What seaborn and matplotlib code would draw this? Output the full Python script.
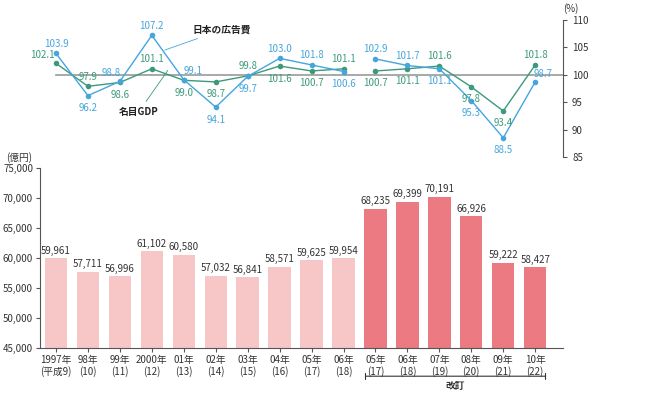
import matplotlib
matplotlib.use("Agg")
import matplotlib.pyplot as plt
import seaborn as sns
import numpy as np

plt.rcParams['font.family'] = 'Noto Sans CJK JP'
plt.rcParams['font.size'] = 7

# data
tick_labels = ['1997年\n(平成9)', '98年\n(10)', '99年\n(11)', '2000年\n(12)', '01年\n(13)',
               '02年\n(14)', '03年\n(15)', '04年\n(16)', '05年\n(17)', '06年\n(18)',
               '05年\n(17)', '06年\n(18)', '07年\n(19)', '08年\n(20)', '09年\n(21)', '10年\n(22)']
ad_spend = [59961, 57711, 56996, 61102, 60580, 57032, 56841, 58571, 59625, 59954,
            68235, 69399, 70191, 66926, 59222, 58427]
ad_ratio = [103.9, 96.2, 98.8, 107.2, 99.1, 94.1, 99.7, 103.0, 101.8, 100.6,
            102.9, 101.7, 101.1, 95.3, 88.5, 98.7]
gdp_ratio = [102.1, 97.9, 98.6, 101.1, 99.0, 98.7, 99.8, 101.6, 100.7, 101.1,
             100.7, 101.1, 101.6, 97.8, 93.4, 101.8]

# label placement (dx, dy in points)
ad_off = [(0, 7), (0, -9), (-6, 6), (0, 7), (7, 6), (0, -9), (0, -9), (0, 7), (0, 7), (0, -9),
          (0, 7), (0, 7), (0, -9), (0, -9), (0, -9), (6, 6)]
gdp_off = [(-10, 6), (0, 7), (0, -9), (0, 7), (0, -9), (0, -9), (0, 7), (0, -9), (0, -9), (0, 7),
           (0, -9), (0, -9), (0, 7), (0, -9), (0, -9), (0, 7)]

BLUE = '#45a6de'
GREEN = '#3c9a7c'
LIGHT = '#f7c6c7'
DARK = '#ec7a82'

fig = plt.figure(figsize=(6.70, 4.03), dpi=100)
W, H = 670, 403
ax_b = fig.add_axes([40 / W, 1 - 348 / H, (563 - 40) / W, 180 / H])
ax_l = fig.add_axes([40 / W, 1 - 157 / H, (563 - 40) / W, 137 / H])

x = np.arange(len(ad_spend))
colors = [LIGHT] * 10 + [DARK] * 6
sns.barplot(x=x, y=ad_spend, hue=x, palette=colors, legend=False, width=0.7,
            saturation=1, ax=ax_b)
for i, v in enumerate(ad_spend):
    ax_b.text(i, v + 400, f'{v:,}', ha='center', va='bottom', fontsize=7, color='#333333')
ax_b.set_xlim(-0.5, 15.87)
ax_b.set_ylim(45000, 75000)
ax_b.set_yticks(range(45000, 75001, 5000))
ax_b.set_yticklabels([f'{t:,}' for t in range(45000, 75001, 5000)])
ax_b.set_xticks(x)
ax_b.set_xticklabels(tick_labels, fontsize=7, linespacing=1.1)
ax_b.tick_params(axis='both', length=3, pad=2, color='#555555', labelcolor='#333333')
for s in ['top', 'right']:
    ax_b.spines[s].set_visible(False)
for s in ['left', 'bottom']:
    ax_b.spines[s].set_color('#555555')
ax_b.text(-0.065, 1.04, '(億円)', transform=ax_b.transAxes, ha='left', fontsize=7, color='#333333')

# revision bracket
ax_b.annotate('', xy=(9.6, 40300), xytext=(15.4, 40300), annotation_clip=False,
              arrowprops=dict(arrowstyle='|-|', mutation_scale=2, lw=0.8, color='#333333'))
ax_b.text(12.5, 39500, '改訂', ha='center', va='top', fontsize=7, fontweight='bold', color='#333333')

# ratio lines
ax_l.axhline(100, color='#999999', lw=1.2, xmin=0.03, xmax=1)
for seg in (slice(0, 10), slice(10, 16)):
    sns.lineplot(x=x[seg], y=gdp_ratio[seg], color=GREEN, marker='o', markersize=4,
                 markeredgewidth=0, lw=1, ax=ax_l)
    sns.lineplot(x=x[seg], y=ad_ratio[seg], color=BLUE, marker='o', markersize=4,
                 markeredgewidth=0, lw=1, ax=ax_l)
for i in x:
    ax_l.annotate(f'{ad_ratio[i]:.1f}', (i, ad_ratio[i]), xytext=ad_off[i], textcoords='offset points',
                  ha='center', va='center', fontsize=7, color=BLUE)
    ax_l.annotate(f'{gdp_ratio[i]:.1f}', (i, gdp_ratio[i]), xytext=gdp_off[i], textcoords='offset points',
                  ha='center', va='center', fontsize=7, color=GREEN)
ax_l.annotate('日本の広告費', xy=(3.4, 104.5), xytext=(5.2, 108.2), fontsize=7, fontweight='bold',
              ha='center', va='center', color='#222222',
              arrowprops=dict(arrowstyle='-', color=BLUE, lw=0.6, shrinkB=0))
ax_l.annotate('名目GDP', xy=(3.5, 100.8), xytext=(2.6, 93.3), fontsize=7, fontweight='bold',
              ha='center', va='center', color='#222222',
              arrowprops=dict(arrowstyle='-', color=GREEN, lw=0.6, shrinkB=0))
ax_l.set_xlim(-0.5, 15.87)
ax_l.set_ylim(85, 110)
ax_l.set_yticks(range(85, 111, 5))
ax_l.yaxis.tick_right()
ax_l.set_xticks([])
ax_l.tick_params(axis='y', length=3, color='#555555', labelcolor='#333333')
for s in ['top', 'left', 'bottom']:
    ax_l.spines[s].set_visible(False)
ax_l.spines['right'].set_color('#555555')
ax_l.patch.set_alpha(0)
ax_l.text(1.0, 1.06, '(%)', transform=ax_l.transAxes, ha='left', fontsize=7, color='#333333')

plt.savefig('out.png', dpi=100)
